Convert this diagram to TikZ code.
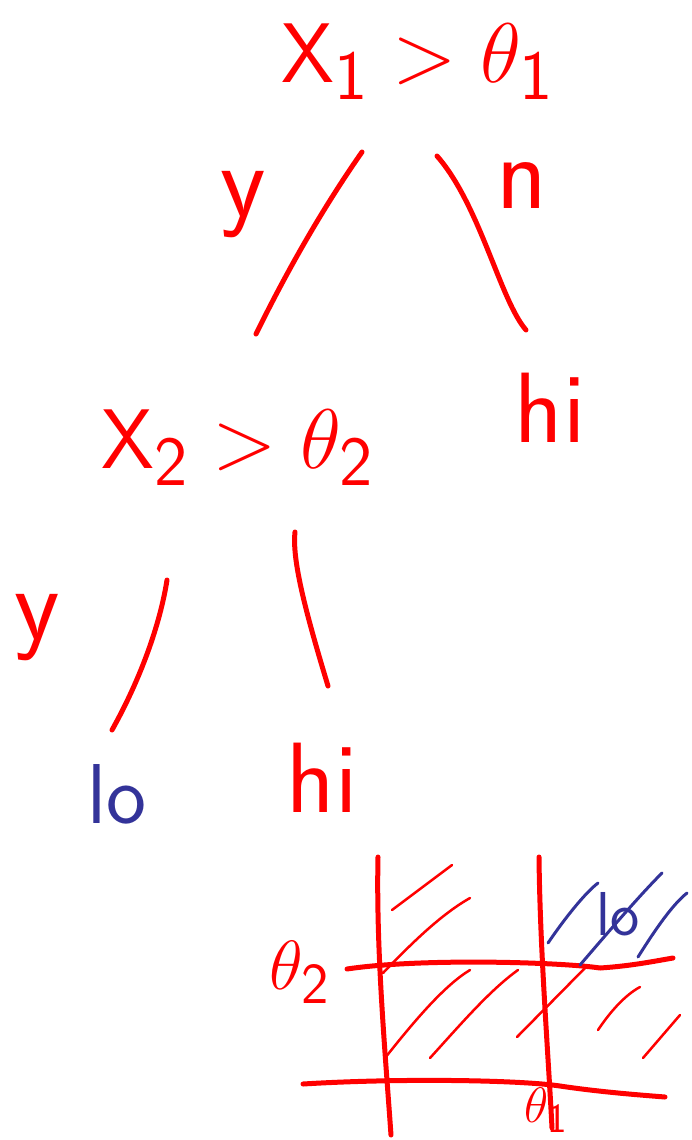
\documentclass[tikz,border=0pt]{standalone}
\definecolor{blueink}{RGB}{51,51,153}
\begin{document}
\begin{tikzpicture}[x=1pt,y=-1pt,
  ink/.style={draw=red, line width=5pt, line cap=round, line join=round},
  hatch/.style={draw=red, line width=2.5pt, line cap=round},
  bhatch/.style={draw=blueink, line width=3pt, line cap=round},
  lbl/.style={text=red, inner sep=0pt},
  big/.style={lbl, font=\Huge, scale=3.4},
  leaf/.style={lbl, font=\fontsize{100}{100}\selectfont\sffamily},
  mid/.style={lbl, font=\fontsize{105}{105}\selectfont\sffamily}]
\useasboundingbox (0,0) rectangle (692,1140);

% tree nodes
\node[big] (n1) at (418,62) {$\mathsf{X}_{\mathsf{1}}>\theta_{\mathsf{1}}$};
\node[big] (n2) at (238,448) {$\mathsf{X}_{\mathsf{2}}>\theta_{\mathsf{2}}$};
\node[leaf] (hi1) at (550,408) {hi};
\node[leaf] (hi2) at (322,778) {hi};
\node[lbl, text=blueink, font=\fontsize{85}{85}\selectfont\sffamily] (lo) at (117,794) {lo};
\node[mid] (y1) at (243,205) {y};
\node[mid] (nn) at (522,186) {n};
\node[mid] (y2) at (37,628) {y};

% connector end points
\coordinate (a1) at (362,152);
\coordinate (b1) at (256,334);
\coordinate (a2) at (437,156);
\coordinate (b2) at (526,330);
\coordinate (a3) at (167,580);
\coordinate (b3) at (112,730);
\coordinate (a4) at (295,532);
\coordinate (b4) at (328,686);

\draw[ink] (a1) .. controls (325,205) and (290,265) .. (b1);
\draw[ink] (a2) .. controls (480,205) and (500,300) .. (b2);
\draw[ink] (a3) .. controls (160,625) and (140,680) .. (b3);
\draw[ink] (a4) .. controls (292,560) and (305,610) .. (b4);

% grid
\coordinate (v1t) at (378,857);
\coordinate (v1b) at (391,1135);
\coordinate (v2t) at (539,857);
\coordinate (v2b) at (552,1128);
\coordinate (h1l) at (347,969);
\coordinate (h1r) at (673,958);
\coordinate (h2l) at (303,1084);
\coordinate (h2r) at (665,1097);

\draw[ink] (v1t) .. controls (376,950) and (385,1050) .. (v1b);
\draw[ink] (v2t) .. controls (540,950) and (548,1050) .. (v2b);
\draw[ink] (h1l) .. controls (420,958) and (560,962) .. (600,968) .. controls (630,966) and (650,962) .. (h1r);
\draw[ink] (h2l) .. controls (400,1078) and (520,1080) .. (560,1086) .. controls (600,1092) and (640,1095) .. (h2r);

\node[lbl, font=\Huge, scale=2.8] (t2) at (300,972) {$\theta_{\mathsf{2}}$};
\node[lbl, font=\Huge, scale=2.0] (t1) at (546,1110) {$\theta_{\mathsf{1}}$};

% hatching
\draw[hatch] (392,910) -- (452,865);
\draw[hatch] (383,973) .. controls (410,945) and (440,915) .. (470,898);
\draw[hatch] (385,1058) .. controls (415,1020) and (445,985) .. (470,970);
\draw[hatch] (430,1058) .. controls (460,1025) and (490,990) .. (518,970);
\draw[hatch] (517,1037) -- (585,968);
\draw[hatch] (598,1030) .. controls (610,1012) and (625,995) .. (640,987);
\draw[hatch] (643,1058) -- (680,1015);
\draw[bhatch] (548,943) .. controls (565,918) and (585,893) .. (598,883);
\draw[bhatch] (580,965) .. controls (610,930) and (640,895) .. (662,873);
\draw[bhatch] (638,957) .. controls (655,930) and (672,905) .. (687,893);
\node[lbl, text=blueink, font=\fontsize{62}{62}\selectfont\sffamily] (lo2) at (618,914) {lo};
\end{tikzpicture}
\end{document}
